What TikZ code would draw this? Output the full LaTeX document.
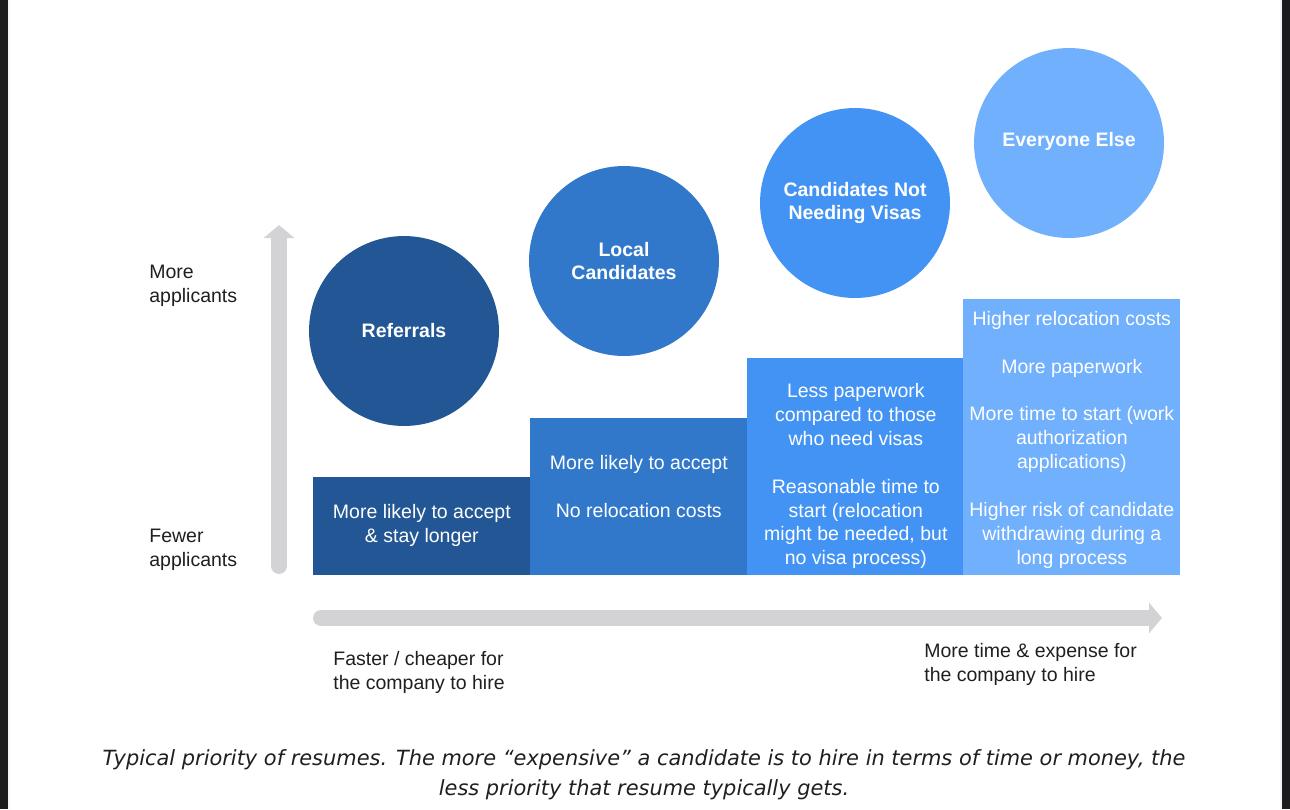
\documentclass[tikz,border=0pt]{standalone}
\usepackage{fontspec}
\setmainfont{Liberation Sans}
\newfontfamily\capfont{DejaVu Sans}
\usepackage{tikz}
\usetikzlibrary{arrows.meta}

\definecolor{refblue}{HTML}{235694}
\definecolor{localblue}{HTML}{3178CA}
\definecolor{visablue}{HTML}{4293F4}
\definecolor{elseblue}{HTML}{70B0FC}
\definecolor{arrowgray}{HTML}{D3D3D5}
\definecolor{textgray}{HTML}{1F1F1F}
\definecolor{edgeblack}{HTML}{1C1C1E}

\begin{document}
\begin{tikzpicture}[x=0.02cm, y=-0.02cm,
    txt/.style={text=textgray, font=\fontsize{11.1}{13.6}\selectfont, align=left, inner sep=0},
    bubble/.style={circle, minimum size=3.8cm, inner sep=0, text=white,
      font=\bfseries\fontsize{11.1}{13.6}\selectfont, align=center},
    stepbox/.style={minimum width=4.34cm, anchor=south west, inner sep=0},
    boxtext/.style={inner sep=0, text=white, font=\fontsize{11.1}{13.6}\selectfont, align=center},
    bigarrow/.style={draw=arrowgray, line width=0.32cm, line cap=round,
      -{Triangle[width=0.6cm,length=0.26cm]}}]
    \useasboundingbox (0,0) rectangle (1290,809);
    % Frame edges
    \fill[edgeblack] (0,0) rectangle (8,809);
    \fill[gray!8] (8,0) rectangle (10,809);
    \fill[gray!8] (1280,0) rectangle (1282,809);
    \fill[edgeblack] (1282,0) rectangle (1290,809);
    % Def coords
    \coordinate (Vlow) at (279, 566);
    \coordinate (Vtop) at (279, 225);
    \coordinate (Hleft) at (321, 618);
    \coordinate (Hright) at (1162, 618);
    % Draw axes
    \draw[bigarrow] (Vlow) -- (Vtop);
    \draw[bigarrow] (Hleft) -- (Hright);
    % Steps
    \node[stepbox, fill=refblue, minimum height=1.96cm] (refbox) at (313, 575) {};
    \node[stepbox, fill=localblue, minimum height=3.14cm] (localbox) at (530, 575) {};
    \node[stepbox, fill=visablue, minimum height=4.34cm] (visabox) at (747, 575) {};
    \node[stepbox, fill=elseblue, minimum height=5.52cm] (elsebox) at (963, 575) {};
    % Step texts
    \node[boxtext] (reftext) at (refbox.center) {More likely to accept\\ \& stay longer};
    \node[boxtext, yshift=0.19cm] (localtext) at (localbox.center)
      {More likely to accept\\[13.6pt] No relocation costs};
    \node[boxtext, yshift=-0.2cm] (visatext) at (visabox.center)
      {Less paperwork\\ compared to those\\ who need visas\\[13.6pt]
       Reasonable time to\\ start (relocation\\ might be needed, but\\ no visa process)};
    \node[boxtext, yshift=-0.06cm] (elsetext) at (elsebox.center)
      {Higher relocation costs\\[13.6pt] More paperwork\\[13.6pt]
       More time to start (work\\ authorization\\ applications)\\[13.6pt]
       Higher risk of candidate\\ withdrawing during a\\ long process};
    % Circles
    \node[bubble, fill=refblue] (refcircle) at (404, 331) {Referrals};
    \node[bubble, fill=localblue] (localcircle) at (624, 261) {Local\\ Candidates};
    \node[bubble, fill=visablue] (visacircle) at (855, 203) {Candidates Not\\ Needing Visas};
    \node[bubble, fill=elseblue] (elsecircle) at (1069, 143) {};
    \node[bubble, yshift=0.04cm] (elselabel) at (elsecircle.center) {Everyone Else};
    % Label
    \node[txt, anchor=west] (more) at (149, 286) {More\\ applicants};
    \node[txt, anchor=west] (fewer) at (149, 550) {Fewer\\ applicants};
    \node[txt, anchor=west] (faster) at (333, 672) {Faster / cheaper for\\ the company to hire};
    \node[txt, anchor=west] (slower) at (924, 664) {More time \& expense for\\ the company to hire};
    \node[text=textgray, align=center, inner sep=0,
      font=\capfont\itshape\fontsize{11.9}{17}\selectfont] (caption) at (644, 775)
      {Typical priority of resumes. The more “expensive” a candidate is to hire in terms of time or money, the\\
       less priority that resume typically gets.};
  \end{tikzpicture}
\end{document}
